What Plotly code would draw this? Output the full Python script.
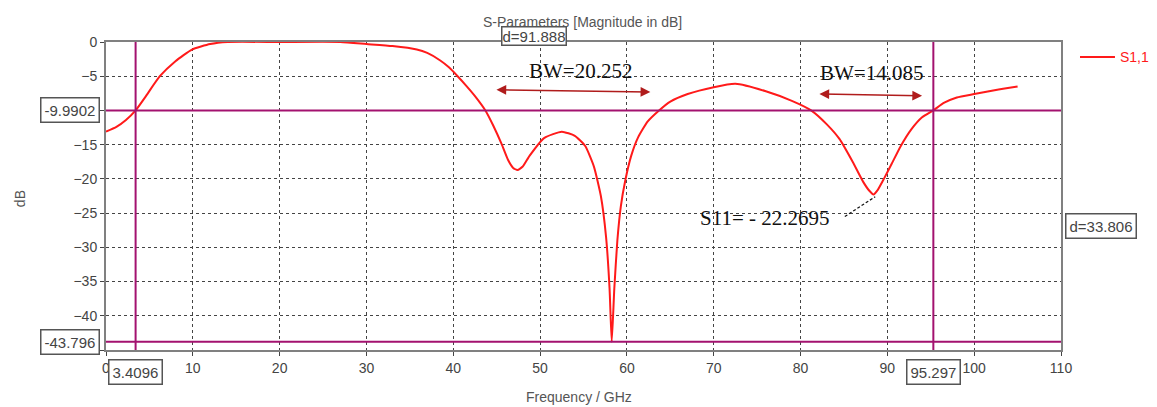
import plotly.graph_objects as go

# ---- data ----
freq_ghz = [0, 1.2, 2.3, 3.4096, 4.6, 6.2, 8.0, 9.9, 12.0, 14.0, 20.0, 27.0, 30.0, 33.0,
            35.8, 37.0, 38.5, 39.5, 40.5, 41.5, 42.5, 43.7, 44.6, 45.6, 46.3, 46.9, 47.4, 48.0,
            48.8, 50.5, 52.5, 54.0, 55.2, 56.2, 57.0, 57.6, 58.0, 58.25, 58.55, 58.9, 59.3,
            59.8, 60.5, 61.3, 62.4, 63.7, 65.0, 67.0, 70.0, 72.5, 76.0, 79.0, 81.21,
            83.0, 84.5, 86.0, 87.2, 87.9, 88.4, 88.9, 89.6, 90.5, 91.5, 92.8, 94.0, 95.297,
            96.5, 98.0, 100.0, 102.5, 105.0]
s11_db = [-13.1, -12.4, -11.4, -9.99, -7.9, -5.0, -2.8, -1.1, -0.3, 0.0, 0.0, 0.0, -0.3, -0.6,
          -1.1, -1.6, -2.7, -3.7, -5.0, -6.4, -7.9, -10.0, -12.2, -15.0, -17.2, -18.4, -18.7, -18.2,
          -16.6, -14.0, -13.1, -13.7, -15.2, -18.2, -22.5, -28.5, -36.0, -43.796, -36.0, -29.0,
          -24.0, -20.3, -16.6, -13.9, -11.6, -10.0, -8.7, -7.6, -6.6, -6.1, -7.2, -8.6, -9.99,
          -12.0, -14.2, -17.5, -20.4, -21.7, -22.2695, -21.6, -20.0, -17.8, -15.3, -12.7, -11.0,
          -9.99, -8.9, -8.1, -7.6, -7.0, -6.5]

marker_x = [3.4096, 95.297]
marker_y = [-9.9902, -43.796]
delta_labels = ["d=91.888", "d=33.806"]
x_ticks = [0, 10, 20, 30, 40, 50, 60, 70, 80, 90, 100, 110]
y_ticks = [0, -5, -10, -15, -20, -25, -30, -35, -40, -45]
bw_labels = ["BW=20.252", "BW=14.085"]
bw_text_pos = [(54.6, -4.3), (88.2, -4.6)]
bw_arrows = [((44.8, -6.97), (62.7, -7.31)), ((82.0, -7.6), (94.0, -7.85))]
min_label = "S11= - 22.2695"
series_name = "S1,1"

MARK = "#a3126f"
RED = "#ff1a1a"
SANS = "Liberation Sans, Arial"
BOXFONT = dict(family=SANS, size=15, color="#444")

fig = go.Figure()
fig.add_trace(go.Scatter(x=freq_ghz, y=s11_db, mode="lines", name=series_name, showlegend=False,
                         line=dict(color=RED, width=2, shape="spline", smoothing=0.5)))

# marker lines
for mx in marker_x:
    fig.add_shape(type="line", x0=mx, x1=mx, y0=0, y1=1, xref="x", yref="paper",
                  line=dict(color=MARK, width=2))
for my in marker_y:
    fig.add_shape(type="line", x0=0, x1=1, y0=my, y1=my, xref="paper", yref="y",
                  line=dict(color=MARK, width=2))

ann = []
for my in marker_y:
    ann.append(dict(text=f"{my:g}", x=-0.006, xref="paper", xanchor="right", y=my, yref="y",
                    yanchor="middle", showarrow=False, bgcolor="white", bordercolor="#555",
                    borderwidth=1.5, borderpad=3, font=BOXFONT))
for mx in marker_x:
    ann.append(dict(text=f"{mx:g}", x=mx, xref="x", xanchor="center", y=-0.072, yref="paper",
                    yanchor="middle", showarrow=False, bgcolor="white", bordercolor="#555",
                    borderwidth=1.5, borderpad=3, font=BOXFONT))
ann.append(dict(text=delta_labels[0], x=(marker_x[0] + marker_x[1]) / 2, xref="x", xanchor="center",
                y=1.02, yref="paper", yanchor="middle", showarrow=False, bgcolor="white",
                bordercolor="#555", borderwidth=1.5, borderpad=0, font=BOXFONT))
ann.append(dict(text=delta_labels[1], x=1.004, xref="paper", xanchor="left",
                y=(marker_y[0] + marker_y[1]) / 2, yref="y", yanchor="middle", showarrow=False,
                bgcolor="white", bordercolor="#555", borderwidth=1.5, borderpad=3, font=BOXFONT))

# titles
ann.append(dict(text="S-Parameters [Magnitude in dB]", x=0.499, xref="paper", y=1.066, yref="paper",
                xanchor="center", yanchor="middle", showarrow=False,
                font=dict(family=SANS, size=14, color="#555")))
ann.append(dict(text="dB", x=-0.09, xref="paper", y=0.49, yref="paper", textangle=-90,
                xanchor="center", yanchor="middle", showarrow=False,
                font=dict(family=SANS, size=14, color="#555")))
ann.append(dict(text="Frequency / GHz", x=0.495, xref="paper", y=-0.153, yref="paper",
                xanchor="center", yanchor="middle", showarrow=False,
                font=dict(family=SANS, size=14, color="#555")))

# legend (drawn manually so it does not push the plot margins)
fig.add_shape(type="line", x0=1.0199, x1=1.0565, y0=0.951, y1=0.951, xref="paper", yref="paper",
              line=dict(color=RED, width=2))
ann.append(dict(text=series_name, x=1.0597, xref="paper", y=0.951, yref="paper",
                xanchor="left", yanchor="middle", showarrow=False,
                font=dict(family=SANS, size=14, color=RED)))

for lab, (tx, ty), ((x0, y0), (x1, y1)) in zip(bw_labels, bw_text_pos, bw_arrows):
    ann.append(dict(text=lab, x=tx, y=ty, xref="x", yref="y", showarrow=False,
                    font=dict(family="Liberation Serif, Times New Roman", size=21, color="#111")))
    ann.append(dict(text="", x=x1, y=y1, ax=x0, ay=y0, xref="x", yref="y", axref="x", ayref="y",
                    showarrow=True, arrowhead=2, arrowside="end+start", arrowsize=1.3,
                    arrowwidth=1.5, arrowcolor="#b01c1c"))

ann.append(dict(text=min_label, x=75.9, y=-25.7, xref="x", yref="y", showarrow=False,
                font=dict(family="Liberation Serif, Times New Roman", size=21, color="#111")))
fig.add_shape(type="line", x0=85.1, y0=-25.5, x1=88.6, y1=-22.6, xref="x", yref="y",
              line=dict(color="#111", width=1.2, dash="3px,2px"))

axis_common = dict(showline=True, linecolor="#808080", linewidth=2, mirror=True,
                   showgrid=True, gridcolor="#444", gridwidth=1, griddash="dot",
                   ticks="outside", ticklen=4, tickcolor="#444", zeroline=False,
                   automargin=False,
                   tickfont=dict(family=SANS, size=14, color="#444"))

# page body has an 8px default margin -> compensate so the plot area lands where the reference has it
fig.update_layout(
    width=1149, height=399,
    margin=dict(l=98, r=96, t=34, b=57),
    paper_bgcolor="white", plot_bgcolor="white",
    showlegend=False,
    xaxis=dict(range=[0, 110], tickvals=x_ticks, **axis_common),
    yaxis=dict(range=[-45, 0], tickvals=y_ticks, **axis_common),
    annotations=ann,
)

fig.write_html("out.html")
